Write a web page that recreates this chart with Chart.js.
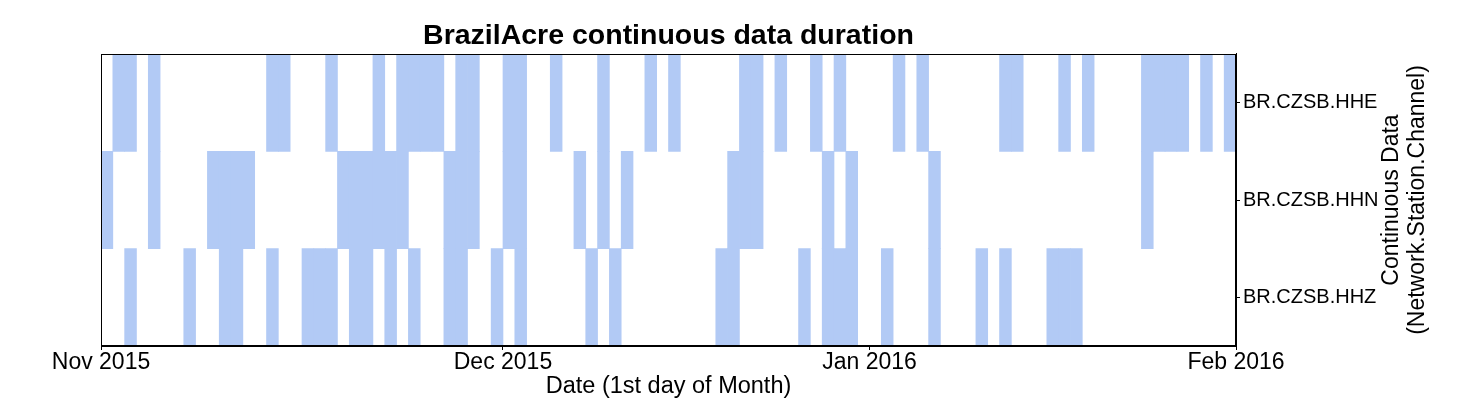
<!DOCTYPE html>
<html>
<head>
<meta charset="utf-8">
<title>BrazilAcre continuous data duration</title>
<script src="https://cdn.jsdelivr.net/npm/chart.js@4.4.1/dist/chart.umd.min.js"></script>
<style>
  html, body { margin: 0; padding: 0; background: #fff; }
</style>
</head>
<body>
<canvas id="durationChart" width="1460" height="400"></canvas>
<script>
// channels, top to bottom
const channels = ["BR.CZSB.HHE", "BR.CZSB.HHN", "BR.CZSB.HHZ"];

// day index (counted from the left edge of the time axis) of every day with continuous data
const hheDays = [1, 2, 4, 14, 15, 19, 23, 25, 26, 27, 28, 30, 31, 34, 35, 38, 42, 46, 48,
  54, 55, 57, 60, 62, 67, 69, 76, 77, 81, 83, 88, 89, 90, 91, 93, 95];
const hhnDays = [0, 4, 9, 10, 11, 12, 20, 21, 22, 23, 24, 25, 29, 30, 31, 34, 35, 40, 42, 44,
  53, 54, 55, 61, 63, 70, 88];
const hhzDays = [2, 7, 10, 11, 14, 17, 18, 19, 21, 22, 24, 26, 29, 30, 33, 35, 41, 43,
  52, 53, 59, 61, 62, 63, 66, 70, 74, 76, 80, 81, 82];

// month ticks on the time axis
const tickDays = [0, 34, 65, 96];
const tickLabels = ["Nov 2015", "Dec 2015", "Jan 2016", "Feb 2016"];

const FONT = "'Liberation Sans', Arial, Helvetica, sans-serif";
Chart.defaults.font.family = FONT;
Chart.defaults.color = "#000";

// one floating bar per day
const bars = [];
[hheDays, hhnDays, hhzDays].forEach((days, i) => {
  days.forEach(d => bars.push({ x: [d, d + 1], y: channels[i] }));
});

// box around the plot + y label on the right (reads bottom to top like the original)
const frameAndLabel = {
  id: "frameAndLabel",
  afterDraw(chart) {
    const { ctx, chartArea: a } = chart;
    ctx.save();
    ctx.strokeStyle = "#000";
    ctx.lineWidth = 1;
    const l = Math.round(a.left) + 0.5, r = Math.round(a.right) - 0.5;
    const t = Math.round(a.top) + 0.5, b = Math.round(a.bottom) - 0.5;
    ctx.strokeRect(l, t, r - l, b - t);

    const cy = (a.top + a.bottom) / 2;
    ctx.font = "23px " + FONT;
    ctx.fillStyle = "#000";
    ctx.textAlign = "center";
    ctx.textBaseline = "middle";
    [["Continuous Data", 1392], ["(Network.Station.Channel)", 1418]].forEach(([txt, x]) => {
      ctx.save();
      ctx.translate(x, cy);
      ctx.rotate(-Math.PI / 2);
      ctx.fillText(txt, 0, 0);
      ctx.restore();
    });
    ctx.restore();
  }
};

new Chart(document.getElementById("durationChart"), {
  type: "bar",
  data: {
    labels: channels,
    datasets: [{
      data: bars,
      backgroundColor: "rgb(178,202,245)",
      borderWidth: 0,
      barPercentage: 1,
      categoryPercentage: 1
    }]
  },
  options: {
    indexAxis: "y",
    responsive: false,
    animation: false,
    layout: { padding: { left: 101, right: 69, top: 0, bottom: 0 } },
    plugins: {
      legend: { display: false },
      tooltip: { enabled: false },
      title: {
        display: true,
        fullSize: false,
        text: "BrazilAcre continuous data duration",
        color: "#000",
        font: { size: 28.5, weight: "bold", lineHeight: 1.2 },
        padding: { top: 19.4, bottom: 0.4 }
      }
    },
    scales: {
      x: {
        type: "linear",
        min: 0,
        max: 96,
        afterBuildTicks: (scale) => { scale.ticks = tickDays.map(v => ({ value: v })); },
        afterFit: (scale) => { scale.height = 54; },
        ticks: {
          autoSkip: false,
          maxRotation: 0,
          padding: 1,
          font: { size: 23, lineHeight: 1 },
          callback: (value, index) => tickLabels[index]
        },
        grid: { drawOnChartArea: false, drawTicks: true, tickLength: 4, color: "#000" },
        border: { display: true, color: "#000", width: 1 },
        title: {
          display: true,
          text: "Date (1st day of Month)",
          font: { size: 23.5, lineHeight: 1 },
          padding: { top: 0, bottom: 1.5 }
        }
      },
      y: {
        type: "category",
        position: "right",
        afterFit: (scale) => { scale.width = 155; },
        ticks: { padding: 3, font: { size: 20 } },
        grid: { drawOnChartArea: false, drawTicks: true, tickLength: 4, color: "#000", offset: false },
        border: { display: true, color: "#000", width: 1 }
      }
    }
  },
  plugins: [frameAndLabel]
});
</script>
</body>
</html>
